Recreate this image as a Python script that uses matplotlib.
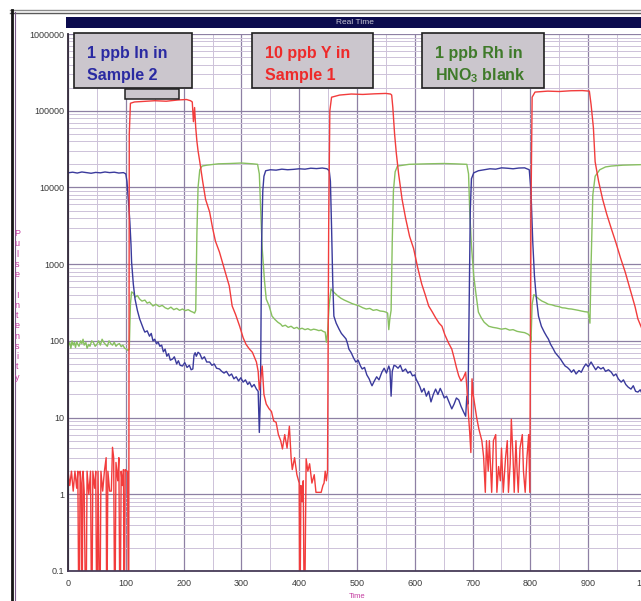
import matplotlib.pyplot as plt
from matplotlib.patches import Rectangle
from matplotlib.lines import Line2D
from matplotlib.ticker import FixedLocator, MultipleLocator, LogLocator, NullFormatter

plt.rcParams['font.family'] = ['Liberation Sans', 'DejaVu Sans']
plt.rcParams['mathtext.fontset'] = 'custom'
plt.rcParams['mathtext.rm'] = 'Liberation Sans'
plt.rcParams['mathtext.bf'] = 'Liberation Sans:bold'

# (time, pulse intensity), 0.01 = dropped below 0.1
in_pts = [(0, 15500), (8, 15800), (16, 15400), (24, 15900), (32, 15600), (40, 15300), (48, 15700),
          (56, 15500), (64, 15900), (72, 15600), (80, 15800), (88, 15400), (96, 15600), (100, 15000),
          (102, 12000), (103, 9600), (105, 6000), (107, 3550), (109, 1800), (110, 1070), (113, 550),
          (116, 350), (120, 250), (124, 193), (128, 160), (131, 140), (133, 130), (137, 135), (141, 115),
          (144, 125), (147, 100), (150, 105), (153, 92), (156, 96), (159, 85), (162, 88), (165, 72),
          (168, 78), (171, 63), (174, 68), (177, 56), (181, 58), (184, 62), (188, 50), (191, 55),
          (194, 48), (198, 47), (202, 52), (206, 45), (210, 48), (213, 42), (216, 43), (218, 65),
          (220, 70), (222, 63), (225, 71), (228, 68), (232, 58), (236, 62), (240, 53), (245, 53),
          (249, 48), (253, 50), (257, 44), (262, 43), (266, 40), (270, 38), (274, 40), (279, 35),
          (283, 37), (287, 32), (291, 34), (295, 30), (299, 33), (303, 29), (307, 31), (311, 27),
          (314, 29), (318, 25), (322, 27), (326, 23.5), (329, 22), (331, 6.4), (333, 20), (335, 2000),
          (337, 9000), (339, 14000), (342, 16500), (350, 17000), (360, 16800), (370, 17300),
          (380, 17000), (390, 17200), (400, 17500), (410, 17300), (420, 17800), (430, 17600),
          (440, 17900), (448, 17500), (452, 16500), (454, 12000), (456, 3000), (458, 600), (460, 210),
          (464, 170), (469, 142), (473, 125), (477, 115), (481, 106), (484, 90), (486, 78), (490, 70),
          (494, 60), (498, 53), (502, 56), (506, 47), (509, 43), (513, 45), (517, 36), (521, 32),
          (524, 28), (526, 26), (530, 30), (534, 34), (538, 31), (543, 39), (547, 44), (551, 38),
          (555, 47), (557, 42), (559, 19), (561, 40), (564, 48), (567, 47), (571, 44), (575, 48),
          (579, 40), (584, 43), (588, 38), (592, 40), (596, 35), (600, 36), (602, 32), (606, 28),
          (609, 25), (612, 21.5), (616, 24), (620, 19), (624, 22), (628, 16), (632, 20), (636, 23.5),
          (640, 20), (644, 24), (647, 21.5), (651, 18), (655, 19), (659, 16), (662, 14), (664, 13),
          (668, 15), (672, 18), (676, 17), (680, 14), (684, 12), (688, 10.4), (690, 19), (692, 15),
          (694, 300), (696, 5000), (698, 13000), (702, 15500), (710, 16500), (720, 17000),
          (730, 17500), (740, 17300), (750, 18000), (760, 17800), (770, 17500), (780, 17900),
          (790, 18000), (798, 17000), (801, 9000), (804, 2000), (807, 700), (810, 380), (814, 210),
          (819, 155), (824, 130), (828, 115), (831, 106), (835, 90), (839, 80), (843, 70), (848, 63),
          (852, 58), (856, 52), (860, 47), (864, 45), (868, 42), (871, 39), (875, 42), (879, 37),
          (884, 41), (888, 39), (892, 45), (896, 50), (900, 46), (905, 53), (909, 47), (913, 42),
          (917, 46), (922, 43), (926, 45), (930, 40), (935, 42), (940, 39), (944, 35), (948, 37),
          (952, 32), (957, 29), (961, 31), (965, 27), (969, 25), (974, 23.5), (978, 26), (982, 22),
          (986, 21.5), (990, 23), (994, 20)]

y_pts = [(0, 2.0), (3, 1.3), (6, 2.0), (9, 1.1), (12, 2.0), (15, 1.2), (17, 2.0), (19, 0.01),
         (21, 2.0), (23, 1.4), (24, 0.01), (26, 2.0), (28, 1.1), (31, 0.01), (33, 2.0), (36, 1.0),
         (39, 2.0), (41, 0.01), (43, 2.0), (46, 1.2), (48, 2.0), (50, 0.01), (52, 2.0), (55, 0.01),
         (57, 2.0), (60, 1.1), (63, 2.0), (66, 3.0), (67, 0.01), (69, 2.0), (72, 1.1), (75, 1.1),
         (77, 4.1), (79, 3.0), (81, 0.01), (83, 2.6), (86, 1.5), (88, 3.0), (90, 0.01), (92, 2.0),
         (94, 1.3), (96, 2.1), (97, 0.01), (99, 2.1), (101, 2.0), (103, 2.0), (105, 0.01),
         (106, 50000), (108, 125000), (115, 130000), (130, 132000), (150, 135000), (170, 133000),
         (190, 138000), (205, 140000), (212, 135000), (215, 130000), (217, 72000), (219, 110000),
         (221, 60000), (223, 40000), (225, 30000), (228, 21600), (233, 12000), (238, 7000),
         (245, 4800), (250, 3000), (255, 2000), (262, 1440), (268, 1000), (274, 700), (279, 520),
         (284, 285), (290, 220), (297, 155), (303, 110), (308, 90), (314, 78), (319, 71), (323, 60),
         (326, 53), (329, 40), (331, 23), (333, 30), (336, 47), (339, 20), (343, 15), (348, 13),
         (352, 12), (356, 9), (360, 8.7), (364, 6), (368, 5), (371, 3.9), (375, 6), (379, 4),
         (383, 7.7), (386, 3), (388, 2.1), (392, 3), (396, 1.8), (400, 1.4), (401, 0.01), (403, 1.3),
         (405, 0.8), (407, 1.5), (409, 0.01), (412, 2.9), (415, 2.0), (418, 2.5), (422, 1.4),
         (426, 1.8), (429, 1.06), (433, 1.06), (438, 1.06), (441, 1.3), (443, 1.4), (445, 2.0),
         (447, 1.5), (449, 2.0), (451, 3000), (453, 100000), (456, 150000), (470, 160000),
         (490, 165000), (510, 163000), (530, 166000), (550, 168000), (558, 165000), (560, 160000),
         (562, 110000), (565, 50000), (568, 28000), (572, 15000), (578, 7000), (584, 4000),
         (591, 2300), (598, 1590), (605, 900), (612, 550), (618, 400), (624, 285), (630, 240),
         (636, 200), (642, 170), (647, 155), (652, 120), (658, 95), (664, 78), (668, 60), (672, 45),
         (676, 35), (680, 30), (684, 33), (688, 39), (690, 25), (693, 10.4), (695, 6.4), (697, 3.5),
         (699, 32), (701, 20), (704, 14), (707, 10), (711, 7), (716, 5), (719, 3.1), (722, 1.06),
         (724, 5), (727, 2.0), (729, 5), (733, 1.06), (736, 5), (740, 6), (742, 1.06), (745, 2.3),
         (748, 1.5), (750, 4), (753, 1.06), (757, 3), (760, 5), (762, 1.06), (765, 2.5), (767, 9.5),
         (770, 3), (772, 1.06), (775, 5), (777, 2), (779, 1.06), (782, 4), (786, 6), (788, 2),
         (791, 1.06), (794, 3), (797, 6), (799, 1.06), (801, 5000), (803, 150000), (808, 175000),
         (830, 180000), (850, 178000), (870, 182000), (890, 183000), (902, 180000), (905, 120000),
         (909, 60000), (912, 21600), (918, 12000), (925, 7000), (932, 4500), (940, 2900),
         (948, 1900), (956, 1200), (964, 790), (970, 550), (976, 380), (981, 280), (986, 193),
         (992, 150)]

rh_pts = [(0, 85), (3, 95), (5, 80), (7, 100), (9, 88), (11, 95), (13, 82), (15, 98), (17, 90),
          (19, 85), (22, 100), (24, 92), (26, 105), (28, 88), (31, 95), (33, 80), (36, 90), (38, 85),
          (41, 100), (44, 95), (47, 85), (50, 90), (53, 100), (56, 88), (59, 105), (62, 95), (65, 90),
          (68, 85), (71, 100), (74, 92), (77, 88), (80, 96), (83, 85), (86, 90), (89, 92), (92, 84),
          (95, 88), (98, 80), (101, 78), (104, 75), (106, 78), (108, 300), (110, 435), (113, 420),
          (116, 370), (120, 390), (124, 350), (128, 330), (133, 340), (137, 310), (141, 320),
          (147, 285), (152, 300), (158, 280), (163, 290), (168, 270), (173, 260), (178, 275),
          (183, 255), (188, 265), (193, 250), (198, 260), (203, 248), (208, 255), (213, 242),
          (216, 237), (219, 230), (221, 250), (223, 2500), (225, 10000), (228, 17000), (232, 19000),
          (240, 19500), (260, 20300), (280, 20500), (300, 20800), (320, 20300), (328, 20000),
          (331, 15000), (334, 4000), (336, 1590), (340, 600), (343, 350), (348, 285), (353, 210),
          (358, 190), (363, 175), (368, 165), (371, 155), (376, 160), (381, 150), (386, 155),
          (391, 145), (396, 150), (400, 142), (405, 146), (410, 140), (415, 144), (420, 138),
          (425, 142), (429, 140), (434, 136), (438, 138), (442, 132), (445, 130), (447, 96),
          (449, 125), (452, 300), (455, 475), (460, 430), (466, 390), (472, 360), (478, 340),
          (486, 320), (492, 305), (498, 295), (504, 285), (510, 270), (516, 260), (522, 265),
          (528, 250), (534, 255), (540, 245), (546, 242), (550, 237), (553, 230), (555, 140),
          (557, 200), (559, 250), (561, 2000), (563, 9000), (566, 16000), (570, 19000), (590, 20000),
          (620, 20300), (650, 20500), (670, 20300), (690, 20000), (693, 15000), (695, 5000),
          (698, 1740), (702, 700), (706, 400), (710, 237), (715, 200), (720, 175), (728, 155),
          (735, 150), (742, 147), (750, 142), (757, 145), (764, 138), (770, 140), (777, 133),
          (784, 130), (790, 128), (796, 122), (800, 115), (801, 96), (803, 300), (806, 400),
          (809, 385), (815, 350), (820, 330), (826, 315), (831, 300), (837, 295), (843, 285),
          (849, 280), (855, 270), (860, 268), (866, 262), (871, 260), (877, 255), (883, 250),
          (888, 245), (894, 240), (900, 237), (903, 170), (905, 1000), (908, 8000), (912, 14000),
          (920, 17000), (930, 18500), (940, 19000), (960, 19500), (990, 19800)]

y_ticks = [0.1, 1, 10, 100, 1000, 10000, 100000, 1000000]
y_tick_labels = ['0.1', '1', '10', '100', '1000', '10000', '100000', '1000000']
x_ticks = list(range(0, 1001, 100))

W, H = 641, 601


def fx(x):
    return x / W


def fy(y):
    return 1 - y / H


fig = plt.figure(figsize=(W / 100, H / 100), dpi=100)
fig.patch.set_facecolor('white')

# plot area (runs a little past the right edge, as in the scan)
ax = fig.add_axes([fx(68), fy(571), fx(646) - fx(68), fy(34) - fy(571)])
ax.set_yscale('log')
ax.set_xlim(0, 1000)
ax.set_ylim(0.1, 1000000)

ax.yaxis.set_major_locator(FixedLocator(y_ticks))
ax.set_yticklabels(y_tick_labels)
ax.yaxis.set_minor_locator(LogLocator(base=10, subs=range(2, 10), numticks=20))
ax.yaxis.set_minor_formatter(NullFormatter())
ax.set_xticks(x_ticks)
ax.xaxis.set_minor_locator(MultipleLocator(50))

ax.grid(which='major', color='#8e80a4', lw=0.9)
ax.grid(which='minor', color='#cdc2d9', lw=0.7)
ax.set_axisbelow(True)
ax.tick_params(which='both', length=0, labelsize=6.5, labelcolor='#3a3a3a')
ax.tick_params(axis='y', pad=3)
ax.tick_params(axis='x', pad=6)

for s in ['top', 'right']:
    ax.spines[s].set_visible(False)
ax.spines['left'].set_color('#302838')
ax.spines['left'].set_linewidth(1.3)
ax.spines['bottom'].set_color('#483c58')
ax.spines['bottom'].set_linewidth(1.3)

# traces
for pts, col in [(rh_pts, '#88c060'), (in_pts, '#3a3a9c'), (y_pts, '#f23c3c')]:
    t, v = zip(*pts)
    ax.plot(t, v, color=col, lw=1.0)

# outer frame lines of the scanned window
fig.add_artist(Line2D([fx(10), 1], [fy(10), fy(10)], color='#8a8a8a', lw=1.0))
fig.add_artist(Line2D([fx(10), 1], [fy(13), fy(13)], color='#5a5a5a', lw=1.0))
fig.add_artist(Line2D([fx(12), fx(12)], [fy(10), 0], color='#151515', lw=2.0))
fig.add_artist(Line2D([fx(14.5), fx(14.5)], [fy(12), 0], color='#7a5a8a', lw=0.8))

# title bar
fig.add_artist(Rectangle((fx(66), fy(28)), 1 - fx(66), fy(17) - fy(28),
                         transform=fig.transFigure, facecolor='#0b0b4e', edgecolor='none'))
fig.text(fx(355), fy(22.5), 'Real Time', color='#c4c4d4', fontsize=6, ha='center', va='center')

# axis labels
fig.text(fx(17), fy(229), '\n'.join('Pulse Intensity'), color='#c43ca0', fontsize=6.5,
         ha='center', va='top', linespacing=1.18)
fig.text(fx(357), fy(597), 'Time', color='#c43ca0', fontsize=5.5, ha='center', va='center')

# annotation boxes
box_face = '#cbc6cd'
fig.add_artist(Rectangle((fx(125), fy(99)), fx(179) - fx(125), fy(89) - fy(99),
                         transform=fig.transFigure, facecolor=box_face, edgecolor='#202020', lw=1.1))
boxes = [(74, 192, '#2a2aa2', '1 ppb In in', 'Sample 2'),
         (252, 373, '#ee2a2a', '10 ppb Y in', 'Sample 1'),
         (422, 544, '#3f7a2a', '1 ppb Rh in', r'HNO$_\mathbf{3}$ blank')]
for x0, x1, col, l1, l2 in boxes:
    fig.add_artist(Rectangle((fx(x0), fy(88)), fx(x1) - fx(x0), fy(33) - fy(88),
                             transform=fig.transFigure, facecolor=box_face,
                             edgecolor='#202020', lw=1.2))
    fig.text(fx(x0 + 13), fy(58), l1, color=col, fontsize=11.5, fontweight='bold', va='baseline')
    fig.text(fx(x0 + 13), fy(80), l2, color=col, fontsize=11.5, fontweight='bold', va='baseline')

plt.savefig('out.png', dpi=100)
